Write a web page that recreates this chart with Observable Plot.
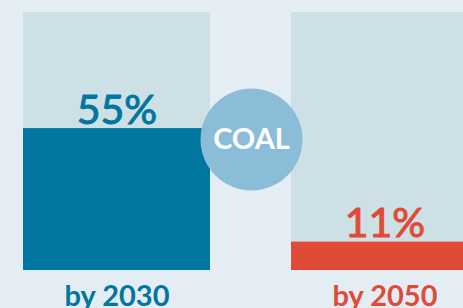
<!DOCTYPE html>
<html>
<head>
<meta charset="utf-8">
<script src="https://cdn.jsdelivr.net/npm/d3@7"></script>
<script src="https://cdn.jsdelivr.net/npm/@observablehq/plot@0.6"></script>
<style>
  html, body { margin: 0; padding: 0; background: #e4edf3; overflow: hidden; }
  #chart svg { display: block; }
</style>
</head>
<body>
<div id="chart"></div>
<script>
const categories = ["by 2030", "by 2050"];
const values = [55, 11];
const valueLabels = ["55%", "11%"];
const centerLabel = ["COAL"];
const colors = ["#0076a1", "#e04b37"];

const data = categories.map((c, i) => ({cat: c, value: values[i], label: valueLabels[i], color: colors[i]}));

const xOpts = {type: "band", domain: categories, range: [22, 479], paddingInner: 0.301, paddingOuter: 0};
const xs = Plot.scale({x: xOpts});
const halfStep = xs.step / 2;

const chart = Plot.plot({
  width: 463,
  height: 308,
  margin: 0,
  style: {background: "#e4edf3", fontFamily: "Lato, sans-serif", overflow: "visible"},
  x: {...xOpts, axis: null},
  y: {domain: [0, 100], range: [270, 12], axis: null},
  marks: [
    Plot.barY(data, {x: "cat", y: 100, fill: "#cde0e6"}),
    Plot.barY(data, {x: "cat", y: "value", fill: "color"}),
    Plot.text(data, {x: "cat", y: "value", text: "label", fill: "color", stroke: "color", strokeWidth: 1, fontSize: 41, fontWeight: 400, lineAnchor: "bottom", dy: -5}),
    Plot.text(data, {x: "cat", y: 0, text: "cat", fill: "color", fontSize: 29, fontWeight: 700, lineAnchor: "bottom", dy: 35}),
    Plot.dot(centerLabel, {x: () => categories[0], y: 50, r: 51, fill: "#8bbdd8", dx: halfStep, dy: -2}),
    Plot.text(centerLabel, {x: () => categories[0], y: 50, text: d => d, fill: "white", fontSize: 29, fontWeight: 700, dx: halfStep, dy: -2})
  ]
});
document.getElementById("chart").appendChild(chart);
</script>
</body>
</html>
